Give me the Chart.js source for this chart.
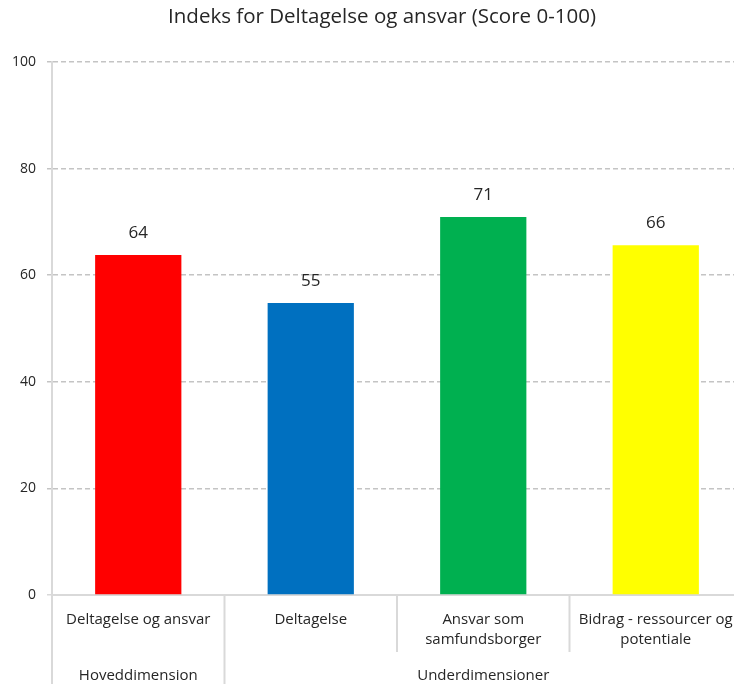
<!DOCTYPE html>
<html><head><meta charset="utf-8">
<script src="https://cdn.jsdelivr.net/npm/chart.js@4.4.1/dist/chart.umd.min.js"></script>
<style>html,body{margin:0;padding:0;overflow:hidden;background:#fff}#wrap{width:764px;height:684px}</style>
</head><body><div id="wrap"><canvas id="c" width="764" height="684"></canvas></div>
<script>
const title = "Indeks for Deltagelse og ansvar (Score 0-100)";
const categories = [["Deltagelse og ansvar"], ["Deltagelse"], ["Ansvar som", "samfundsborger"], ["Bidrag - ressourcer og", "potentiale"]];
const groups = ["Hoveddimension", "Underdimensioner"];
const groupMembers = [[0], [1, 2, 3]];
const values = [63.8, 54.8, 70.9, 65.6];
const barColors = ["#FF0000", "#0070C0", "#00B050", "#FFFF00"];
const yMin = 0, yMax = 100, yStep = 20;

const FONT = "'Open Sans', 'Noto Sans', sans-serif";
const TEXT = "#262626";
const AXIS = "#d9d9d9";
const GRID = "#c4c4c4";

const overlay = {
  id: 'overlay',
  afterDatasetsDraw(chart) {
    const ctx = chart.ctx, meta = chart.getDatasetMeta(0);
    ctx.save();
    ctx.font = "17px " + FONT; ctx.fillStyle = TEXT;
    ctx.textAlign = 'center'; ctx.textBaseline = 'middle';
    meta.data.forEach((bar, i) => ctx.fillText(String(Math.round(values[i])), bar.x, bar.y - 22));
    ctx.restore();
  },
  afterDraw(chart) {
    const ctx = chart.ctx, xs = chart.scales.x, ca = chart.chartArea, H = chart.height;
    const centers = categories.map((_, i) => xs.getPixelForValue(i));
    const half = (centers[1] - centers[0]) / 2;
    const bounds = [centers[0] - half].concat(centers.map(c => c + half));
    const groupStarts = new Set(groupMembers.map(g => g[0]));
    const groupEnd = categories.length;
    ctx.save();
    ctx.strokeStyle = AXIS; ctx.lineWidth = 2;
    bounds.forEach((b, i) => {
      const full = groupStarts.has(i) || i === groupEnd;
      ctx.beginPath();
      ctx.moveTo(b, ca.bottom);
      ctx.lineTo(b, full ? H : ca.bottom + 57);
      ctx.stroke();
    });
    ctx.font = "15px " + FONT; ctx.fillStyle = TEXT;
    ctx.textAlign = 'center'; ctx.textBaseline = 'middle';
    groupMembers.forEach((g, gi) => {
      const cx = g.reduce((s, i) => s + centers[i], 0) / g.length;
      ctx.fillText(groups[gi], cx, ca.bottom + 81);
    });
    // chart title
    ctx.font = "20.5px " + FONT;
    ctx.fillText(title, chart.width / 2, 17.3);
    ctx.restore();
  }
};

new Chart(document.getElementById('c'), {
  type: 'bar',
  data: {
    labels: categories,
    datasets: [{ data: values, backgroundColor: barColors, borderWidth: 0, barPercentage: 0.5, categoryPercentage: 1 }]
  },
  options: {
    responsive: false, animation: false,
    layout: { padding: { left: 0, right: 22, top: 62, bottom: 0 } },
    plugins: {
      legend: { display: false }, tooltip: { enabled: false }, title: { display: false }
    },
    scales: {
      x: {
        grid: { display: true, drawOnChartArea: false, drawTicks: false },
        border: { display: true, color: AXIS, width: 2 },
        ticks: { color: TEXT, font: { family: FONT, size: 15, lineHeight: 1.3 }, padding: 15, maxRotation: 0, autoSkip: false },
        afterFit(axis) { axis.height = 89; }
      },
      y: {
        min: yMin, max: yMax,
        ticks: { stepSize: yStep, color: TEXT, font: { family: FONT, size: 14 }, padding: 11 },
        grid: {
          color: c => c.tick && c.tick.value === 0 ? 'rgba(0,0,0,0)' : GRID,
          tickColor: c => c.tick && c.tick.value === 0 ? AXIS : GRID,
          lineWidth: 1.5, tickLength: 5, tickWidth: 1.5, tickBorderDash: [5, 3]
        },
        border: { display: true, color: AXIS, width: 2, dash: [5, 3] },
        afterFit(axis) { axis.width = 52; }
      }
    }
  },
  plugins: [overlay]
});
</script></body></html>
